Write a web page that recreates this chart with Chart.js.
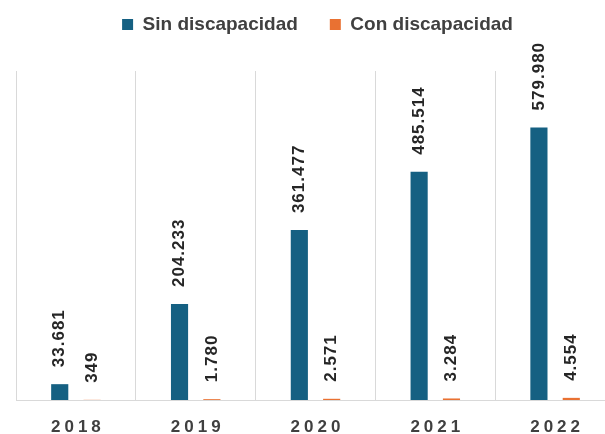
<!DOCTYPE html>
<html lang="es">
<head>
    <meta charset="UTF-8">
    <title>Sin / Con discapacidad</title>
    <script src="https://cdn.jsdelivr.net/npm/chart.js"></script>
    <style>
        html, body { margin: 0; padding: 0; background: #fff; overflow: hidden; }
        /* el gráfico original está recortado por la derecha */
        #wrap { width: 615px; height: 434px; }
    </style>
</head>
<body>
    <div id="wrap"><canvas id="chart"></canvas></div>
    <script>
        // datos
        const years = ['2018', '2019', '2020', '2021', '2022'];
        const sinDiscapacidad = [33681, 204233, 361477, 485514, 579980];
        const conDiscapacidad = [349, 1780, 2571, 3284, 4554];

        // 579980 -> "579.980"
        function fmt(v) {
            return String(v).replace(/\B(?=(\d{3})+(?!\d))/g, '.');
        }

        // la leyenda ocupa todo el espacio hasta el área del gráfico (y=71)
        const legendPos = {
            id: 'legendPos',
            beforeInit(chart) {
                chart.legend.fit = (function (fit) {
                    return function () {
                        fit.call(this);
                        this.height = 71;
                    };
                })(chart.legend.fit);
            },
            afterLayout(chart) {
                const lg = chart.legend;
                lg.top = -17;
                lg.left += 2;
                lg.right += 2;
            }
        };

        // etiquetas verticales encima de cada barra + años del eje x
        const labelsPlugin = {
            id: 'labelsPlugin',
            afterDatasetsDraw(chart) {
                const ctx = chart.ctx;
                ctx.save();
                ctx.font = 'bold 17px "Liberation Sans", Arial, sans-serif';
                ctx.letterSpacing = '1px';
                ctx.fillStyle = '#262626';
                ctx.textAlign = 'left';
                ctx.textBaseline = 'middle';
                chart.data.datasets.forEach((ds, i) => {
                    chart.getDatasetMeta(i).data.forEach((bar, j) => {
                        ctx.save();
                        ctx.translate(bar.x, bar.y - 17);
                        ctx.rotate(-Math.PI / 2);
                        ctx.fillText(fmt(ds.data[j]), 0, 0);
                        ctx.restore();
                    });
                });

                const x = chart.scales.x;
                ctx.font = 'bold 17px "Liberation Sans", Arial, sans-serif';
                ctx.letterSpacing = '4px';
                ctx.fillStyle = '#404040';
                ctx.textAlign = 'center';
                years.forEach((y, i) => {
                    ctx.fillText(y, x.getPixelForTick(i) + 2, 427);
                });
                ctx.restore();
            }
        };

        new Chart(document.getElementById('chart'), {
            type: 'bar',
            data: {
                labels: years,
                datasets: [
                    {
                        label: 'Sin discapacidad',
                        data: sinDiscapacidad,
                        backgroundColor: '#156082',
                        categoryPercentage: 0.54,
                        barPercentage: 0.53
                    },
                    {
                        label: 'Con discapacidad',
                        data: conDiscapacidad,
                        backgroundColor: '#E97132',
                        categoryPercentage: 0.54,
                        barPercentage: 0.53
                    }
                ]
            },
            options: {
                responsive: true,
                maintainAspectRatio: false,
                animation: false,
                layout: { padding: { left: 16, right: 0, top: 0, bottom: 34 } },
                plugins: {
                    legend: {
                        position: 'top',
                        labels: {
                            boxWidth: 11,
                            boxHeight: 11,
                            padding: 32,
                            color: '#404040',
                            font: { family: '"Liberation Sans", Arial, sans-serif', size: 19, weight: 'bold' }
                        }
                    },
                    tooltip: { enabled: false }
                },
                scales: {
                    x: {
                        grid: { color: '#d9d9d9', lineWidth: 1, drawTicks: false },
                        border: { color: '#d9d9d9', width: 1 },
                        ticks: { display: false }
                    },
                    y: {
                        display: false,
                        min: 0,
                        max: 700000
                    }
                }
            },
            plugins: [legendPos, labelsPlugin]
        });
    </script>
</body>
</html>
